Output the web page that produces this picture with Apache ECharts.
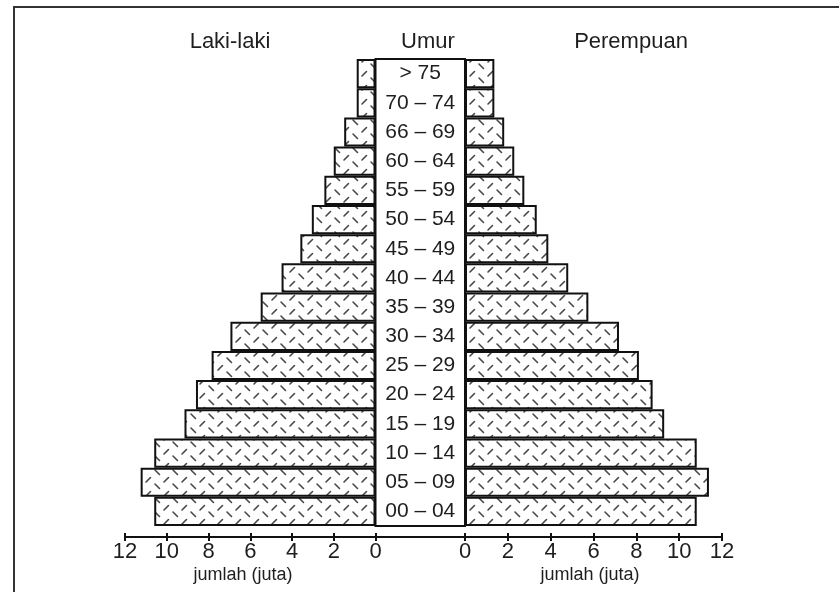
<!DOCTYPE html>
<html><head><meta charset="utf-8">
<script src="https://cdn.jsdelivr.net/npm/echarts@6/dist/echarts.min.js"></script>
<style>html,body{margin:0;padding:0;background:#fff}#c{width:839px;height:592px}</style>
</head><body><div id="c"></div>
<script>
// ---- data ----
const ageGroups = ['> 75','70 – 74','66 – 69','60 – 64','55 – 59','50 – 54','45 – 49','40 – 44','35 – 39','30 – 34','25 – 29','20 – 24','15 – 19','10 – 14','05 – 09','00 – 04'];
const maleValues = [0.9,0.9,1.5,2.0,2.45,3.05,3.6,4.5,5.5,6.95,7.85,8.6,9.15,10.6,11.25,10.6];
const femaleValues = [1.37,1.37,1.83,2.3,2.77,3.35,3.89,4.82,5.76,7.19,8.12,8.76,9.3,10.82,11.39,10.82];
const axisMin = 0, axisMax = 12, axisInterval = 2;
const titleLeft = 'Laki-laki', titleCenter = 'Umur', titleRight = 'Perempuan';
const axisTitle = 'jumlah (juta)';

// ---- styles ----
const FONT = 'Liberation Sans, Arial, sans-serif';
const INK = '#111';
const TXT = '#1e1e1e';

function makePattern(){
  const c = document.createElement('canvas'); c.width = 18; c.height = 14;
  const g = c.getContext('2d');
  g.fillStyle = '#fff'; g.fillRect(0,0,18,14);
  g.strokeStyle = '#484848'; g.lineWidth = 1.6; g.lineCap = 'round';
  g.beginPath();
  g.moveTo(2,6); g.lineTo(6.5,1.5);
  g.moveTo(11,8); g.lineTo(15.5,12.5);
  g.stroke();
  return c;
}
const pat = makePattern();

const chart = echarts.init(document.getElementById('c'), null, {renderer:'canvas'});

function valueAxis(grid, inverse, inside){
  return {
    gridIndex: grid, type:'value', min:axisMin, max:axisMax, interval:axisInterval,
    inverse: inverse, position:'bottom', offset: 11,
    axisLine:{show:!inside, onZero:false, lineStyle:{color:INK, width:2}},
    axisTick:{show:true, inside:inside, length:4, lineStyle:{color:INK, width:2}},
    axisLabel:{show:!inside, fontSize:22, color:TXT, margin:4, fontFamily:FONT},
    splitLine:{show:false}
  };
}

const barStyle = {color:{image:pat, repeat:'repeat'}, borderColor:INK, borderWidth:2};

const option = {
  backgroundColor:'#fff',
  animation:false,
  grid:[
    {left:125, width:250.5, top:59, height:467},
    {left:375.5, width:89.5, top:59, height:467, show:true, borderColor:INK, borderWidth:2, backgroundColor:'#fff'},
    {left:465, width:257, top:59, height:467}
  ],
  xAxis:[
    valueAxis(0, true, false),
    valueAxis(0, true, true),
    {gridIndex:1, type:'value', min:0, max:1, position:'bottom', offset:11,
      axisLine:{show:true, onZero:false, lineStyle:{color:INK, width:2}},
      axisTick:{show:false}, axisLabel:{show:false}, splitLine:{show:false}},
    valueAxis(2, false, false),
    valueAxis(2, false, true)
  ],
  yAxis:[
    {gridIndex:0, type:'category', data:ageGroups, inverse:true, show:false},
    {gridIndex:1, type:'category', data:ageGroups, inverse:true,
      axisLine:{show:false}, axisTick:{show:false}, splitLine:{show:false},
      axisLabel:{interval:0, align:'center', margin:-44.75, fontSize:21, color:TXT, fontFamily:FONT}},
    {gridIndex:2, type:'category', data:ageGroups, inverse:true, show:false}
  ],
  series:[
    {type:'bar', name:titleLeft, xAxisIndex:0, yAxisIndex:0, data:maleValues, barCategoryGap:'0%', itemStyle:barStyle, silent:true},
    {type:'bar', name:titleRight, xAxisIndex:3, yAxisIndex:2, data:femaleValues, barCategoryGap:'0%', itemStyle:barStyle, silent:true}
  ],
  graphic:[
    {type:'rect', shape:{x:14, y:7, width:900, height:700}, style:{fill:'none', stroke:'#333', lineWidth:2}, silent:true},
    {type:'text', x:230, y:42, style:{text:titleLeft, font:'22px '+FONT, fill:TXT, align:'center', verticalAlign:'middle'}},
    {type:'text', x:428, y:42, style:{text:titleCenter, font:'22px '+FONT, fill:TXT, align:'center', verticalAlign:'middle'}},
    {type:'text', x:631, y:42, style:{text:titleRight, font:'22px '+FONT, fill:TXT, align:'center', verticalAlign:'middle'}},
    {type:'text', x:243, y:575, style:{text:axisTitle, font:'18px '+FONT, fill:TXT, align:'center', verticalAlign:'middle'}},
    {type:'text', x:590, y:575, style:{text:axisTitle, font:'18px '+FONT, fill:TXT, align:'center', verticalAlign:'middle'}}
  ]
};
chart.setOption(option);
</script>
</body></html>
